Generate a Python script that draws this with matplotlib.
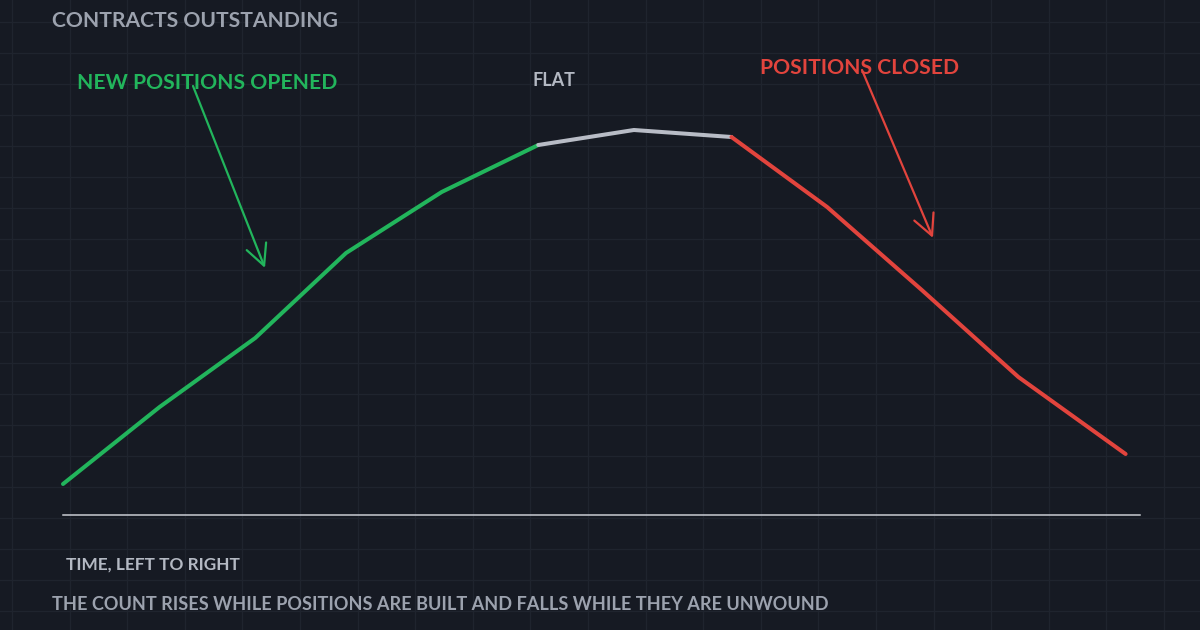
"""
Contracts outstanding: build-up, flat top, unwind.
"""
import numpy as np
import matplotlib.pyplot as plt

# --- data (time steps, contract count in arbitrary units) ---
time = [0.0, 1.0, 1.99, 2.93, 3.92, 4.92, 5.91, 6.92, 7.91, 8.89, 9.89, 11.0]
count = [7.75, 27.0, 44.25, 65.5, 80.75, 92.5, 96.25, 94.5, 77.0, 56.25, 34.5, 15.25]
open_end = 5      # last index of the opening phase
flat_end = 7      # last index of the flat phase

title = "CONTRACTS OUTSTANDING"
label_open = "NEW POSITIONS OPENED"
label_flat = "FLAT"
label_close = "POSITIONS CLOSED"
xlabel = "TIME, LEFT TO RIGHT"
caption = "THE COUNT RISES WHILE POSITIONS ARE BUILT AND FALLS WHILE THEY ARE UNWOUND"

BG = "#161a23"
GRID = "#1f242e"
GREEN = "#22b55c"
RED = "#e2443d"
GREY_LINE = "#b8bcc6"
GREY_TEXT = "#9ca2ae"

plt.rcParams['font.family'] = ['Lato', 'DejaVu Sans']

W, H = 1200, 630
fig = plt.figure(figsize=(W / 100, H / 100), dpi=100, facecolor=BG)

# background layer in pixel coordinates (origin top-left)
bg = fig.add_axes([0, 0, 1, 1], zorder=0)
bg.set_xlim(0, W)
bg.set_ylim(H, 0)
bg.set_facecolor(BG)
bg.axis("off")
for gx in np.arange(12, W, 57.6):
    bg.axvline(gx, color=GRID, lw=0.9)
for gy in np.arange(22, H, 31):
    bg.axhline(gy, color=GRID, lw=0.9)

# main plot
x_per_px = 96.6
left_px, right_px, base_px, top_px = 63, 1140, 515, 115
ax = fig.add_axes([left_px / W, (H - base_px) / H,
                   (right_px - left_px) / W, (base_px - top_px) / H], zorder=1)
ax.set_xlim(0, (right_px - left_px) / x_per_px)
ax.set_ylim(0, 100)
ax.patch.set_alpha(0)
ax.set_xticks([])
ax.set_yticks([])
for side in ("top", "right", "left"):
    ax.spines[side].set_visible(False)
ax.spines["bottom"].set_color("#c9ccd3")
ax.spines["bottom"].set_linewidth(1.1)

kw = dict(lw=2.9, solid_capstyle="round", solid_joinstyle="round", clip_on=False)
ax.plot(time[:open_end + 1], count[:open_end + 1], color=GREEN, **kw)
ax.plot(time[open_end:flat_end + 1], count[open_end:flat_end + 1], color=GREY_LINE, **kw)
ax.plot(time[flat_end:], count[flat_end:], color=RED, **kw)

# overlay for text and arrows, pixel coordinates
ov = fig.add_axes([0, 0, 1, 1], zorder=2)
ov.set_xlim(0, W)
ov.set_ylim(H, 0)
ov.patch.set_alpha(0)
ov.axis("off")

txt = dict(ha="left", va="center", fontweight="bold")
ov.text(52, 21, title, color=GREY_TEXT, fontsize=15.2, **txt)
ov.text(77, 83, label_open, color=GREEN, fontsize=15.2, **txt)
ov.text(533, 81, label_flat, color="#b4b9c3", fontsize=13, **txt)
ov.text(760, 68, label_close, color=RED, fontsize=15.2, **txt)
ov.text(66, 565, xlabel, color="#b4b9c3", fontsize=12.4, **txt)
ov.text(52, 604, caption, color=GREY_TEXT, fontsize=13.1, **txt)

arrow = dict(arrowstyle="->,head_length=1.5,head_width=0.75", lw=1.6,
             shrinkA=0, shrinkB=0, joinstyle="miter")
ov.annotate("", xy=(265, 268), xytext=(193, 86),
            arrowprops=dict(color=GREEN, **arrow))
ov.annotate("", xy=(933, 238), xytext=(862, 70),
            arrowprops=dict(color=RED, **arrow))

fig.savefig("out.png", dpi=100, facecolor=BG)
